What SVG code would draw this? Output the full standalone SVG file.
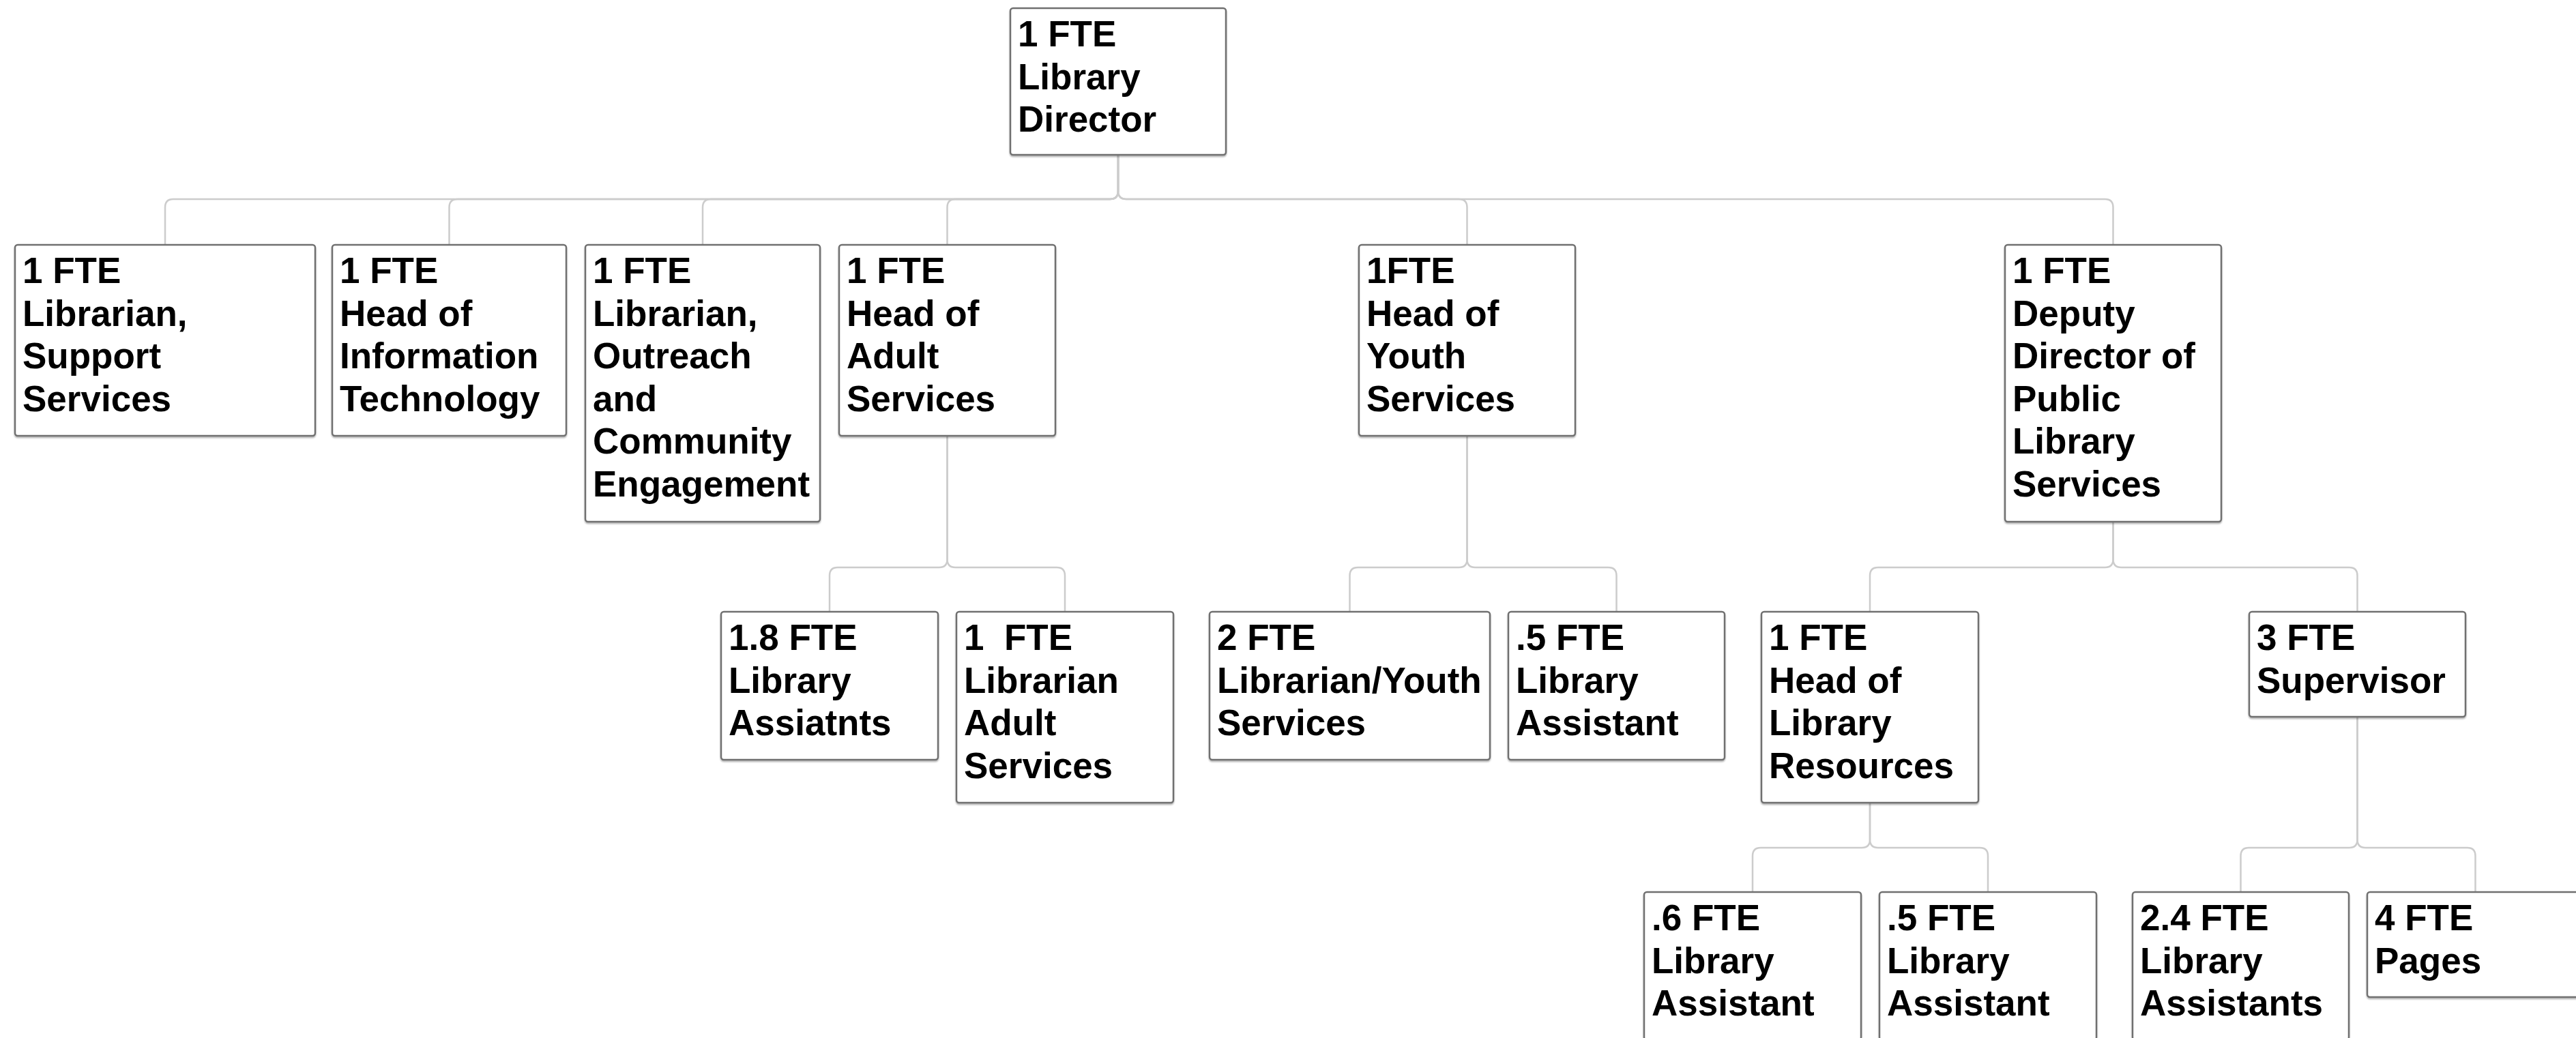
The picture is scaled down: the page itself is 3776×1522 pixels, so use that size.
<svg xmlns="http://www.w3.org/2000/svg" width="3776" height="1522" viewBox="0 0 3776 1522">
<defs>
<style>
.box{fill:#ffffff;stroke:#707070;stroke-width:2.5}
.lbl{font-family:"Liberation Sans",Arial,sans-serif;font-weight:bold;font-size:53px;fill:#000000;white-space:pre}
.con{fill:none;stroke:#cccccc;stroke-width:2.5}
</style>
<filter id="sh" x="-5%" y="-5%" width="110%" height="115%">
<feDropShadow dx="0" dy="2" stdDeviation="1.2" flood-color="#000" flood-opacity="0.3"/>
</filter>
</defs>
<rect x="0" y="0" width="3776" height="1522" fill="#ffffff"/>
<g id="connectors">
<path class="con" d="M1639,227 V280 Q1639,292 1627,292 H254 Q242,292 242,304 V359"/>
<path class="con" d="M1639,227 V280 Q1639,292 1627,292 H670.5 Q658.5,292 658.5,304 V359"/>
<path class="con" d="M1639,227 V280 Q1639,292 1627,292 H1042 Q1030,292 1030,304 V359"/>
<path class="con" d="M1639,227 V280 Q1639,292 1627,292 H1400.5 Q1388.5,292 1388.5,304 V359"/>
<path class="con" d="M1639,227 V280 Q1639,292 1651,292 H2138.5 Q2150.5,292 2150.5,304 V359"/>
<path class="con" d="M1639,227 V280 Q1639,292 1651,292 H3085.5 Q3097.5,292 3097.5,304 V359"/>
<path class="con" d="M1388.5,639 V820 Q1388.5,832 1376.5,832 H1228 Q1216,832 1216,844 V897"/>
<path class="con" d="M1388.5,639 V820 Q1388.5,832 1400.5,832 H1549 Q1561,832 1561,844 V897"/>
<path class="con" d="M2150.5,639 V820 Q2150.5,832 2138.5,832 H1990.5 Q1978.5,832 1978.5,844 V897"/>
<path class="con" d="M2150.5,639 V820 Q2150.5,832 2162.5,832 H2357.5 Q2369.5,832 2369.5,844 V897"/>
<path class="con" d="M3097.5,765 V820 Q3097.5,832 3085.5,832 H2753 Q2741,832 2741,844 V897"/>
<path class="con" d="M3097.5,765 V820 Q3097.5,832 3109.5,832 H3443.5 Q3455.5,832 3455.5,844 V897"/>
<path class="con" d="M2741,1177 V1231 Q2741,1243 2729,1243 H2581 Q2569,1243 2569,1255 V1308"/>
<path class="con" d="M2741,1177 V1231 Q2741,1243 2753,1243 H2902 Q2914,1243 2914,1255 V1308"/>
<path class="con" d="M3455.5,1051 V1231 Q3455.5,1243 3443.5,1243 H3296.5 Q3284.5,1243 3284.5,1255 V1308"/>
<path class="con" d="M3455.5,1051 V1231 Q3455.5,1243 3467.5,1243 H3616.5 Q3628.5,1243 3628.5,1255 V1308"/>
</g>
<g id="n-director">
<rect class="box" filter="url(#sh)" x="1481" y="12" width="316" height="215" rx="4"/>
<text class="lbl" x="1492" y="68"><tspan x="1492">1 FTE</tspan><tspan x="1492" dy="62.5">Library</tspan><tspan x="1492" dy="62.5">Director</tspan></text>
</g>
<g id="n-support">
<rect class="box" filter="url(#sh)" x="22" y="359" width="440" height="280" rx="4"/>
<text class="lbl" x="33" y="415"><tspan x="33">1 FTE</tspan><tspan x="33" dy="62.5">Librarian,</tspan><tspan x="33" dy="62.5">Support</tspan><tspan x="33" dy="62.5">Services</tspan></text>
</g>
<g id="n-it">
<rect class="box" filter="url(#sh)" x="487" y="359" width="343" height="280" rx="4"/>
<text class="lbl" x="498" y="415"><tspan x="498">1 FTE</tspan><tspan x="498" dy="62.5">Head of</tspan><tspan x="498" dy="62.5">Information</tspan><tspan x="498" dy="62.5">Technology</tspan></text>
</g>
<g id="n-outreach">
<rect class="box" filter="url(#sh)" x="858" y="359" width="344" height="406" rx="4"/>
<text class="lbl" x="869" y="415"><tspan x="869">1 FTE</tspan><tspan x="869" dy="62.5">Librarian,</tspan><tspan x="869" dy="62.5">Outreach</tspan><tspan x="869" dy="62.5">and</tspan><tspan x="869" dy="62.5">Community</tspan><tspan x="869" dy="62.5">Engagement</tspan></text>
</g>
<g id="n-adult">
<rect class="box" filter="url(#sh)" x="1230" y="359" width="317" height="280" rx="4"/>
<text class="lbl" x="1241" y="415"><tspan x="1241">1 FTE</tspan><tspan x="1241" dy="62.5">Head of</tspan><tspan x="1241" dy="62.5">Adult</tspan><tspan x="1241" dy="62.5">Services</tspan></text>
</g>
<g id="n-youth">
<rect class="box" filter="url(#sh)" x="1992" y="359" width="317" height="280" rx="4"/>
<text class="lbl" x="2003" y="415"><tspan x="2003">1FTE</tspan><tspan x="2003" dy="62.5">Head of</tspan><tspan x="2003" dy="62.5">Youth</tspan><tspan x="2003" dy="62.5">Services</tspan></text>
</g>
<g id="n-deputy">
<rect class="box" filter="url(#sh)" x="2939" y="359" width="317" height="406" rx="4"/>
<text class="lbl" x="2950" y="415"><tspan x="2950">1 FTE</tspan><tspan x="2950" dy="62.5">Deputy</tspan><tspan x="2950" dy="62.5">Director of</tspan><tspan x="2950" dy="62.5">Public</tspan><tspan x="2950" dy="62.5">Library</tspan><tspan x="2950" dy="62.5">Services</tspan></text>
</g>
<g id="n-adult-assistants">
<rect class="box" filter="url(#sh)" x="1057" y="897" width="318" height="217" rx="4"/>
<text class="lbl" x="1068" y="953"><tspan x="1068">1.8 FTE</tspan><tspan x="1068" dy="62.5">Library</tspan><tspan x="1068" dy="62.5">Assiatnts</tspan></text>
</g>
<g id="n-adult-librarian">
<rect class="box" filter="url(#sh)" x="1402" y="897" width="318" height="280" rx="4"/>
<text class="lbl" x="1413" y="953" xml:space="preserve"><tspan x="1413">1  FTE</tspan><tspan x="1413" dy="62.5">Librarian</tspan><tspan x="1413" dy="62.5">Adult</tspan><tspan x="1413" dy="62.5">Services</tspan></text>
</g>
<g id="n-youth-librarian">
<rect class="box" filter="url(#sh)" x="1773" y="897" width="411" height="217" rx="4"/>
<text class="lbl" x="1784" y="953"><tspan x="1784">2 FTE</tspan><tspan x="1784" dy="62.5">Librarian/Youth</tspan><tspan x="1784" dy="62.5">Services</tspan></text>
</g>
<g id="n-youth-assistant">
<rect class="box" filter="url(#sh)" x="2211" y="897" width="317" height="217" rx="4"/>
<text class="lbl" x="2222" y="953"><tspan x="2222">.5 FTE</tspan><tspan x="2222" dy="62.5">Library</tspan><tspan x="2222" dy="62.5">Assistant</tspan></text>
</g>
<g id="n-resources">
<rect class="box" filter="url(#sh)" x="2582" y="897" width="318" height="280" rx="4"/>
<text class="lbl" x="2593" y="953"><tspan x="2593">1 FTE</tspan><tspan x="2593" dy="62.5">Head of</tspan><tspan x="2593" dy="62.5">Library</tspan><tspan x="2593" dy="62.5">Resources</tspan></text>
</g>
<g id="n-supervisor">
<rect class="box" filter="url(#sh)" x="3297" y="897" width="317" height="154" rx="4"/>
<text class="lbl" x="3308" y="953"><tspan x="3308">3 FTE</tspan><tspan x="3308" dy="62.5">Supervisor</tspan></text>
</g>
<g id="n-res-assistant-6">
<rect class="box" filter="url(#sh)" x="2410" y="1308" width="318" height="217" rx="4"/>
<text class="lbl" x="2421" y="1364"><tspan x="2421">.6 FTE</tspan><tspan x="2421" dy="62.5">Library</tspan><tspan x="2421" dy="62.5">Assistant</tspan></text>
</g>
<g id="n-res-assistant-5">
<rect class="box" filter="url(#sh)" x="2755" y="1308" width="318" height="217" rx="4"/>
<text class="lbl" x="2766" y="1364"><tspan x="2766">.5 FTE</tspan><tspan x="2766" dy="62.5">Library</tspan><tspan x="2766" dy="62.5">Assistant</tspan></text>
</g>
<g id="n-sup-assistants">
<rect class="box" filter="url(#sh)" x="3126" y="1308" width="317" height="217" rx="4"/>
<text class="lbl" x="3137" y="1364"><tspan x="3137">2.4 FTE</tspan><tspan x="3137" dy="62.5">Library</tspan><tspan x="3137" dy="62.5">Assistants</tspan></text>
</g>
<g id="n-pages">
<rect class="box" filter="url(#sh)" x="3470" y="1308" width="317" height="154" rx="4"/>
<text class="lbl" x="3481" y="1364"><tspan x="3481">4 FTE</tspan><tspan x="3481" dy="62.5">Pages</tspan></text>
</g>
</svg>
